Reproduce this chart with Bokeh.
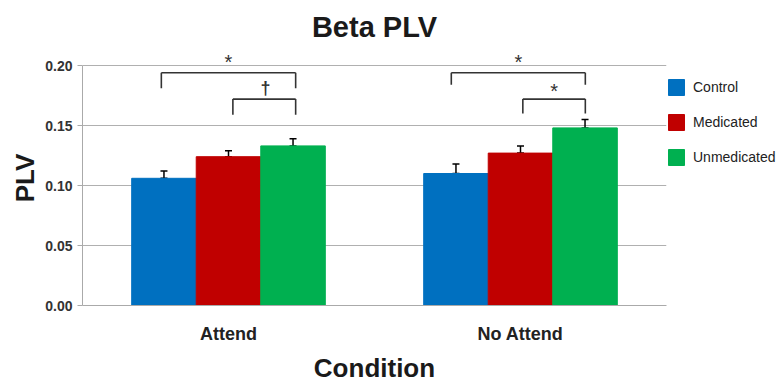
from bokeh.plotting import figure
from bokeh.models import (FactorRange, ColumnDataSource, Legend, LegendItem, Label,
                          Whisker, TeeHead, FixedTicker, NumeralTickFormatter, Range1d)
from bokeh.transform import dodge
from bokeh.embed import file_html
from bokeh.resources import INLINE

# ---- data ----
conditions = ["Attend", "No Attend"]
groups = ["Control", "Medicated", "Unmedicated"]
control = [0.106, 0.110]
medicated = [0.124, 0.127]
unmedicated = [0.133, 0.148]
control_err = [0.006, 0.008]
medicated_err = [0.005, 0.006]
unmedicated_err = [0.006, 0.007]
y_ticks = [0.0, 0.05, 0.10, 0.15, 0.20]

# significance brackets (condition, left/right offsets within group, levels in PLV units)
br_cond = ["Attend", "Attend", "No Attend", "No Attend"]
br_left = [-0.23, 0.015, -0.237, 0.008]
br_right = [0.23, 0.23, 0.222, 0.222]
br_top = [0.194, 0.172, 0.194, 0.172]
br_foot = [0.181, 0.159, 0.184, 0.160]
br_mark = ["*", "\u2020", "*", "*"]
br_mark_off = [0.0, 0.127, -0.007, 0.115]
br_mark_y = [0.2065, 0.1806, 0.2068, 0.1825]

colors = ["#0070C0", "#C00000", "#00B050"]
FONT = "Liberation Sans"
FRAME_W = 584

src = ColumnDataSource(dict(
    cond=conditions,
    Control=control, Medicated=medicated, Unmedicated=unmedicated,
    Control_hi=[v + e for v, e in zip(control, control_err)],
    Medicated_hi=[v + e for v, e in zip(medicated, medicated_err)],
    Unmedicated_hi=[v + e for v, e in zip(unmedicated, unmedicated_err)],
))

p = figure(x_range=FactorRange(*conditions, range_padding=0.0, factor_padding=0.0),
           y_range=Range1d(0, 0.2125),
           frame_width=FRAME_W, frame_height=255,
           output_backend="svg", toolbar_location=None,
           title="Beta PLV", min_border_left=82, min_border_top=50,
           min_border_bottom=84, min_border_right=0)
p.outline_line_color = None

bar_w = 0.221
offsets = [-bar_w, 0.0, bar_w]
items = []
for g, c, off in zip(groups, colors, offsets):
    r = p.vbar(x=dodge("cond", off, range=p.x_range), top=g, width=bar_w,
               source=src, fill_color=c, line_color=c)
    items.append(LegendItem(label=g, renderers=[r]))
    w = Whisker(base=dodge("cond", off, range=p.x_range), lower=g, upper=g + "_hi",
                source=src, line_color="black", line_width=1.5,
                upper_head=TeeHead(size=7, line_color="black", line_width=1.5),
                lower_head=TeeHead(size=7, line_color="black", line_width=1.5))
    p.add_layout(w)

# brackets
hx0 = [(c, l) for c, l in zip(br_cond, br_left)]
hx1 = [(c, r) for c, r in zip(br_cond, br_right)]
p.segment(x0=hx0, y0=br_top, x1=hx1, y1=br_top, line_color="#333333", line_width=1.6)
p.segment(x0=hx0, y0=br_top, x1=hx0, y1=br_foot, line_color="#333333", line_width=1.6)
p.segment(x0=hx1, y0=br_top, x1=hx1, y1=br_foot, line_color="#333333", line_width=1.6)

# significance marks; FactorRange synthetic coordinate of factor i is i + 0.5 (no padding)
for c, m, off, yv in zip(br_cond, br_mark, br_mark_off, br_mark_y):
    is_star = (m == "*")
    p.add_layout(Label(x=conditions.index(c) + 0.5 + off, y=yv, text=m,
                       y_offset=-4.5 if is_star else 1.0,
                       text_align="center", text_baseline="middle",
                       text_font=FONT, text_font_size="20px" if is_star else "18px",
                       text_font_style="normal" if is_star else "bold",
                       text_color="#333333"))

# legend
legend = Legend(items=items, location=(0, 138), glyph_width=20, glyph_height=20,
                spacing=15, label_standoff=7, padding=0, margin=0,
                border_line_color=None, background_fill_alpha=0,
                label_text_font=FONT, label_text_font_size="14px",
                label_text_color="#222222")
p.add_layout(legend, "right")

# title
p.title.align = "center"
p.title.text_font = FONT
p.title.text_font_size = "29px"
p.title.text_font_style = "bold"
p.title.text_color = "#1a1a1a"
p.title.standoff = 15

# axes
p.yaxis.ticker = FixedTicker(ticks=y_ticks)
p.yaxis.bounds = (0, 0.2)
p.yaxis.formatter = NumeralTickFormatter(format="0.00")
p.yaxis.axis_label = "PLV"
p.yaxis.axis_label_text_font = FONT
p.yaxis.axis_label_text_font_size = "26px"
p.yaxis.axis_label_text_font_style = "bold"
p.yaxis.axis_label_text_color = "#1a1a1a"
p.yaxis.axis_label_standoff = 2
p.yaxis.major_label_text_font = FONT
p.yaxis.major_label_text_font_size = "14px"
p.yaxis.major_label_text_font_style = "bold"
p.yaxis.major_label_text_color = "#333333"
p.yaxis.major_label_standoff = 5
p.yaxis.axis_line_color = "#aaaaaa"
p.yaxis.major_tick_line_color = "#aaaaaa"
p.yaxis.major_tick_out = 5
p.yaxis.major_tick_in = 0
p.yaxis.minor_tick_line_color = None

p.xaxis.axis_label = "Condition"
p.xaxis.axis_label_text_font = FONT
p.xaxis.axis_label_text_font_size = "26px"
p.xaxis.axis_label_text_font_style = "bold"
p.xaxis.axis_label_text_color = "#1a1a1a"
p.xaxis.axis_label_standoff = 6
p.xaxis.major_label_text_font = FONT
p.xaxis.major_label_text_font_size = "18px"
p.xaxis.major_label_text_font_style = "bold"
p.xaxis.major_label_text_color = "#222222"
p.xaxis.major_label_standoff = 18
p.xaxis.axis_line_color = "#aaaaaa"
p.xaxis.major_tick_line_color = None
p.xaxis.major_tick_out = 0
p.xaxis.major_tick_in = 0

p.xgrid.grid_line_color = None
p.ygrid.grid_line_color = "#b0b0b0"
p.ygrid.ticker = FixedTicker(ticks=y_ticks)

open("out.html", "w").write(file_html(p, INLINE))
